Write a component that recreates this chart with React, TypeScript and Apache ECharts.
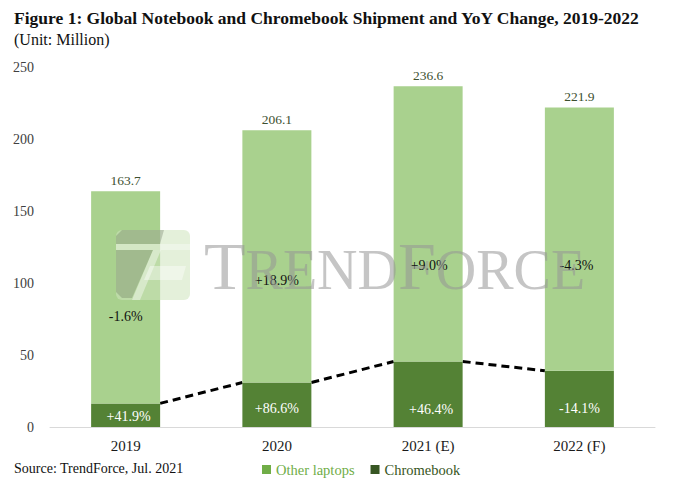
import React, { useEffect, useRef } from "react";
import * as echarts from "echarts";

const categories = ["2019", "2020", "2021 (E)", "2022 (F)"];
const totals = [163.7, 206.1, 236.6, 221.9];
const chromebook = [16.4, 30.9, 45.5, 39.0];
const otherLaptops = totals.map((t, i) => +(t - chromebook[i]).toFixed(1));
const otherYoY = ["-1.6%", "+18.9%", "+9.0%", "-4.3%"];
const chromebookYoY = ["+41.9%", "+86.6%", "+46.4%", "-14.1%"];
const yTicks = { min: 0, max: 250, interval: 50 };

// label placement tweaks (styling only)
const otherLabelOffsets = [[0, 19], [0, 24], [1, 42], [-3, 26]];
const cbLabelOffsets = [[3, 1], [0, 4], [3, 15], [0, 10]];

const LIGHT = "#a9d18e";
const DARK = "#548235";
const SERIF = "Liberation Serif";
const GRID = { left: 50, right: 38, top: 67, bottom: 61 };
const BAR_W = 69;
const WM = "rgba(150,150,150,0.55)";

export default function App() {
  const ref = useRef<HTMLDivElement>(null);
  useEffect(() => {
    document.body.style.margin = "0";
    if (!ref.current) return;
    const chart = echarts.init(ref.current, null, { renderer: "svg" });
    const gridW = 693 - GRID.left - GRID.right;
    const h = BAR_W / 2 / (gridW / categories.length);
    const trendSeries = chromebook.slice(0, -1).map((v, i) => ({
      name: "Chromebook trend " + i,
      type: "line",
      xAxisIndex: 1,
      z: 1,
      symbol: "none",
      silent: true,
      lineStyle: { color: "#000", width: 3, type: [8, 5] },
      data: [
        [i + h, v],
        [i + 1 - h, chromebook[i + 1]],
      ],
    }));
    const wz = { z: 100, zlevel: 0 };
    chart.setOption({
      animation: false,
      textStyle: { fontFamily: SERIF },
      title: [
        {
          text: "Figure 1: Global Notebook and Chromebook Shipment and YoY Change, 2019-2022",
          left: 9,
          top: 4,
          textStyle: { fontFamily: SERIF, fontWeight: "bold", fontSize: 17.5, color: "#111" },
        },
        {
          text: "(Unit: Million)",
          left: 9,
          top: 26,
          textStyle: { fontFamily: SERIF, fontWeight: "normal", fontSize: 16, color: "#111" },
        },
        {
          text: "Source: TrendForce, Jul. 2021",
          left: 9,
          top: 456,
          textStyle: { fontFamily: SERIF, fontWeight: "normal", fontSize: 14, color: "#111" },
        },
      ],
      legend: {
        left: 257,
        top: 457,
        icon: "rect",
        itemWidth: 9,
        itemHeight: 9,
        itemGap: 16,
        formatter: (name: string) => (name === "Chromebook" ? `{c|${name}}` : `{o|${name}}`),
        textStyle: {
          fontFamily: SERIF,
          fontSize: 14.5,
          rich: {
            o: { fontFamily: SERIF, fontSize: 14.5, color: "#70ad47" },
            c: { fontFamily: SERIF, fontSize: 14.5, color: "#375623" },
          },
        },
        data: [
          { name: "Other laptops", itemStyle: { color: "#70ad47" } },
          { name: "Chromebook", itemStyle: { color: "#375623" } },
        ],
      },
      grid: { ...GRID },
      xAxis: [
        {
          type: "category",
          data: categories,
          axisLine: { lineStyle: { color: "#d9d9d9", width: 1 } },
          axisTick: { show: false },
          axisLabel: { fontFamily: SERIF, fontSize: 15, color: "#1a1a1a", margin: 11 },
        },
        { type: "value", min: -0.5, max: 3.5, show: false },
      ],
      yAxis: {
        type: "value",
        ...yTicks,
        splitLine: { show: false },
        axisLine: { show: false },
        axisTick: { show: false },
        axisLabel: { fontFamily: SERIF, fontSize: 14, color: "#404040", margin: 16 },
      },
      series: [
        {
          name: "Chromebook",
          type: "bar",
          stack: "a",
          barWidth: BAR_W,
          z: 3,
          itemStyle: { color: DARK },
          data: chromebook.map((v, i) => ({
            value: v,
            label: {
              show: true,
              position: "inside",
              offset: cbLabelOffsets[i],
              formatter: () => chromebookYoY[i],
              color: "#ffffff",
              fontFamily: SERIF,
              fontSize: 14,
            },
          })),
        },
        {
          name: "Other laptops",
          type: "bar",
          stack: "a",
          barWidth: BAR_W,
          z: 3,
          itemStyle: { color: LIGHT },
          data: otherLaptops.map((v, i) => ({
            value: v,
            label: {
              show: true,
              position: "inside",
              offset: otherLabelOffsets[i],
              formatter: () => otherYoY[i],
              color: "#111111",
              fontFamily: SERIF,
              fontSize: 14,
            },
          })),
        },
        {
          name: "Total",
          type: "bar",
          stack: "a",
          barWidth: BAR_W,
          z: 3,
          itemStyle: { color: "transparent" },
          data: totals.map(() => 0),
          label: {
            show: true,
            position: "top",
            distance: 4,
            formatter: (p: any) => totals[p.dataIndex].toFixed(1),
            color: "#3d5030",
            fontFamily: SERIF,
            fontSize: 13.5,
          },
        },
        ...trendSeries,
      ],
      graphic: [
        { type: "rect", ...wz, shape: { x: 116, y: 230, width: 74, height: 70, r: 6 }, style: { fill: "rgba(205,228,188,0.55)" } },
        { type: "polygon", ...wz, shape: { points: [[122, 230], [164, 230], [160, 244], [116, 244], [116, 236]] }, style: { fill: "rgba(95,110,85,0.3)" } },
        { type: "polygon", ...wz, shape: { points: [[116, 250], [153, 250], [132, 298], [122, 298], [116, 292]] }, style: { fill: "rgba(95,110,85,0.3)" } },
        { type: "polygon", ...wz, shape: { points: [[116, 244], [190, 244], [190, 250], [116, 250]] }, style: { fill: "rgba(255,255,255,0.35)" } },
        { type: "polygon", ...wz, shape: { points: [[153, 250], [161, 250], [140, 300], [132, 300]] }, style: { fill: "rgba(255,255,255,0.4)" } },
        { type: "polygon", ...wz, shape: { points: [[150, 266], [186, 266], [182, 280], [144, 280]] }, style: { fill: "rgba(255,255,255,0.4)" } },
        {
          type: "text",
          ...wz,
          x: 204,
          y: 300,
          style: {
            text: "{b|T}{s|REND}{b|F}{s|ORCE}",
            textVerticalAlign: "bottom",
            fill: WM,
            rich: {
              b: { fontFamily: SERIF, fontSize: 68, fill: WM, verticalAlign: "bottom" },
              s: { fontFamily: SERIF, fontSize: 56, fill: WM, verticalAlign: "bottom", padding: [0, 0, 2, 0] },
            },
          },
        },
      ],
    });
    return () => chart.dispose();
  }, []);
  return <div ref={ref} style={{ width: 693, height: 488 }} />;
}
